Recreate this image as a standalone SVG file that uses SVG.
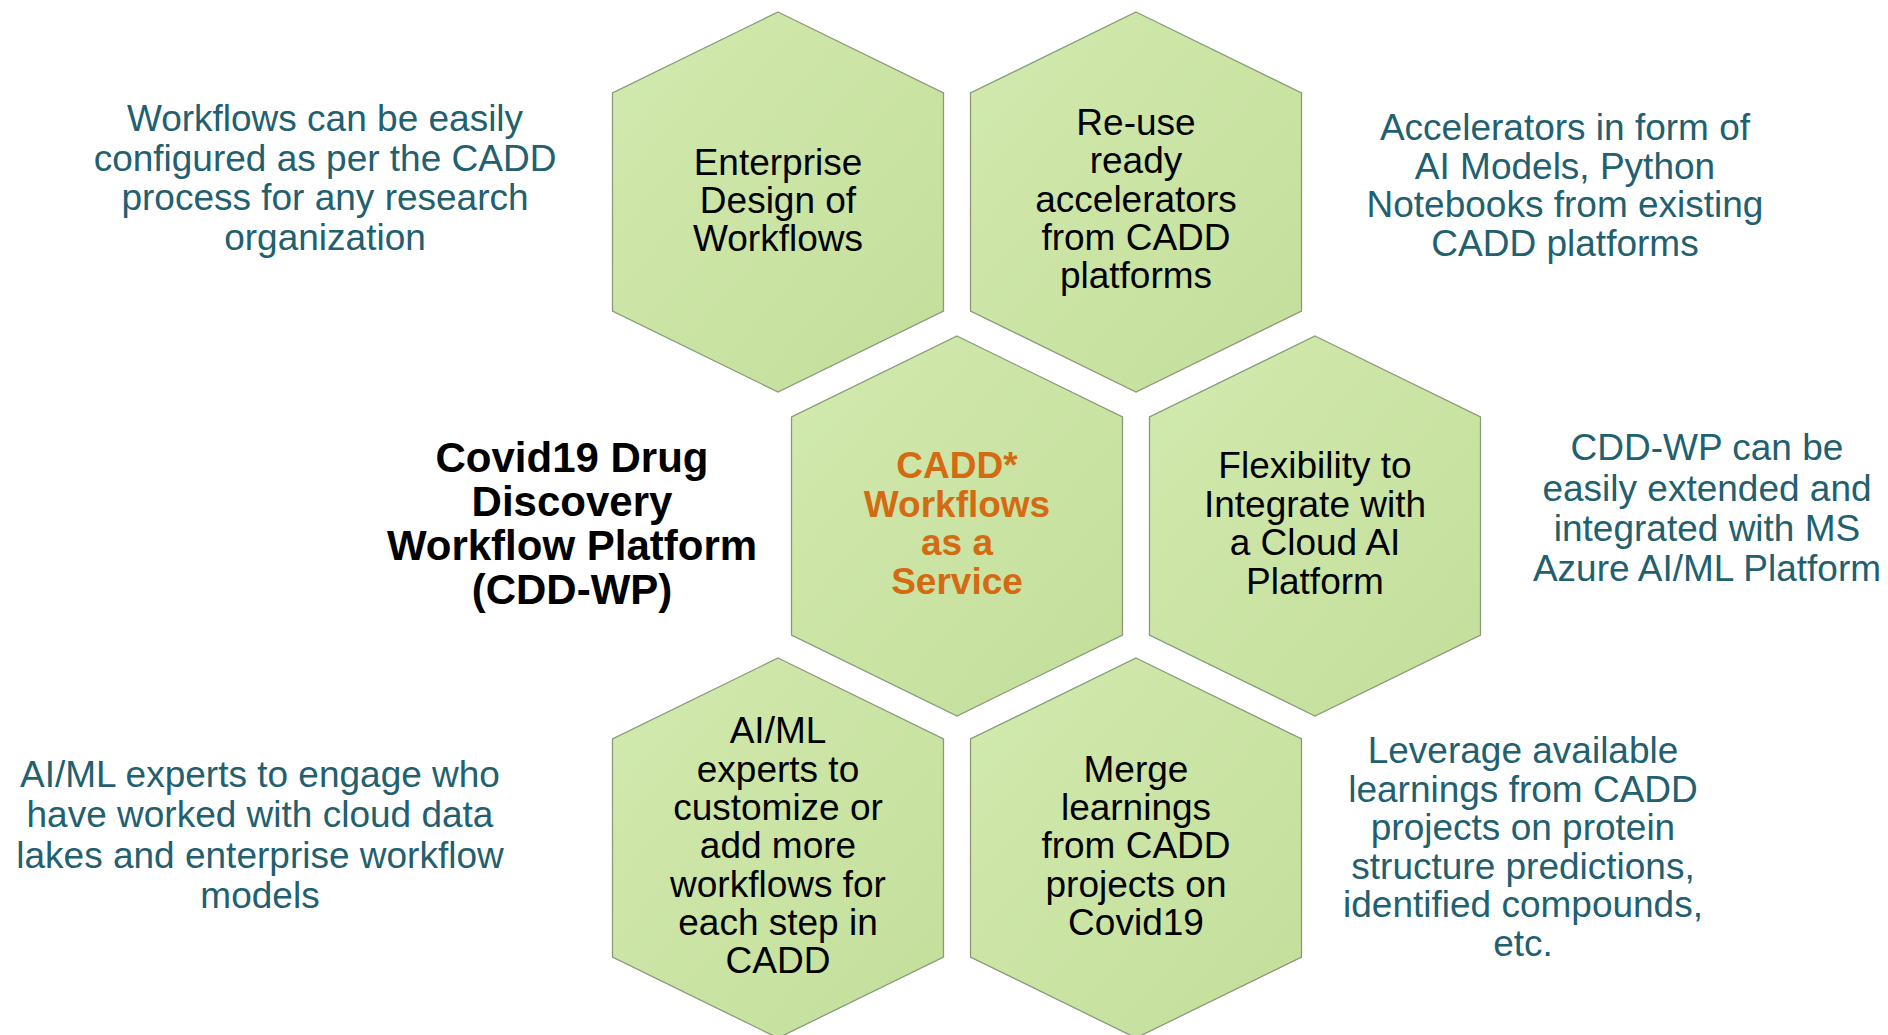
<svg xmlns="http://www.w3.org/2000/svg" width="1888" height="1035" viewBox="0 0 1888 1035">
<defs>
<linearGradient id="g" x1="0" y1="0" x2="1" y2="1">
<stop offset="0" stop-color="#d2eaae"/>
<stop offset="1" stop-color="#c3de9b"/>
</linearGradient>
<polygon id="hex" points="0,0 165.5,81 165.5,299 0,380 -165.5,299 -165.5,81"/>
</defs>
<style>
.hx{fill:url(#g);stroke:#8a9a78;stroke-width:1.3}
.ht{font-family:"Liberation Sans",Arial,sans-serif;font-size:37px;fill:#000;text-anchor:middle}
.hc{font-family:"Liberation Sans",Arial,sans-serif;font-size:37px;font-weight:bold;fill:#d46b12;text-anchor:middle}
.st{font-family:"Liberation Sans",Arial,sans-serif;font-size:37px;fill:#22606f;text-anchor:middle}
.tt{font-family:"Liberation Sans",Arial,sans-serif;font-size:42px;font-weight:bold;fill:#000;text-anchor:middle}
</style>
<rect width="1888" height="1035" fill="#fff"/>
<g id="connectors"></g>
<g id="hex-enterprise">
<use href="#hex" class="hx" x="778" y="12"/>
<text class="ht"><tspan x="778" y="175">Enterprise</tspan><tspan x="778" y="213">Design of</tspan><tspan x="778" y="251">Workflows</tspan></text>
</g>
<g id="hex-reuse">
<use href="#hex" class="hx" x="1136" y="12"/>
<text class="ht"><tspan x="1136" y="135">Re-use</tspan><tspan x="1136" y="173">ready</tspan><tspan x="1136" y="212">accelerators</tspan><tspan x="1136" y="250">from CADD</tspan><tspan x="1136" y="288">platforms</tspan></text>
</g>
<g id="hex-center">
<use href="#hex" class="hx" x="957" y="336"/>
<text class="hc"><tspan x="957" y="478">CADD*</tspan><tspan x="957" y="517">Workflows</tspan><tspan x="957" y="555">as a</tspan><tspan x="957" y="594">Service</tspan></text>
</g>
<g id="hex-flex">
<use href="#hex" class="hx" x="1315" y="336"/>
<text class="ht"><tspan x="1315" y="478">Flexibility to</tspan><tspan x="1315" y="517">Integrate with</tspan><tspan x="1315" y="555">a Cloud AI</tspan><tspan x="1315" y="594">Platform</tspan></text>
</g>
<g id="hex-aiml">
<use href="#hex" class="hx" x="778" y="658"/>
<text class="ht"><tspan x="778" y="743">AI/ML</tspan><tspan x="778" y="782">experts to</tspan><tspan x="778" y="820">customize or</tspan><tspan x="778" y="858">add more</tspan><tspan x="778" y="897">workflows for</tspan><tspan x="778" y="935">each step in</tspan><tspan x="778" y="973">CADD</tspan></text>
</g>
<g id="hex-merge">
<use href="#hex" class="hx" x="1136" y="658"/>
<text class="ht"><tspan x="1136" y="782">Merge</tspan><tspan x="1136" y="820">learnings</tspan><tspan x="1136" y="858">from CADD</tspan><tspan x="1136" y="897">projects on</tspan><tspan x="1136" y="935">Covid19</tspan></text>
</g>
<g id="title">
<text class="tt"><tspan x="572" y="472">Covid19 Drug</tspan><tspan x="572" y="516">Discovery</tspan><tspan x="572" y="560">Workflow Platform</tspan><tspan x="572" y="604">(CDD-WP)</tspan></text>
</g>
<g id="note-top-left">
<text class="st"><tspan x="325" y="131">Workflows can be easily</tspan><tspan x="325" y="171">configured as per the CADD</tspan><tspan x="325" y="210">process for any research</tspan><tspan x="325" y="250">organization</tspan></text>
</g>
<g id="note-top-right">
<text class="st"><tspan x="1565" y="140">Accelerators in form of</tspan><tspan x="1565" y="179">AI Models, Python</tspan><tspan x="1565" y="217">Notebooks from existing</tspan><tspan x="1565" y="256">CADD platforms</tspan></text>
</g>
<g id="note-mid-right">
<text class="st"><tspan x="1707" y="460">CDD-WP can be</tspan><tspan x="1707" y="501">easily extended and</tspan><tspan x="1707" y="541">integrated with MS</tspan><tspan x="1707" y="581">Azure AI/ML Platform</tspan></text>
</g>
<g id="note-bottom-left">
<text class="st"><tspan x="260" y="787">AI/ML experts to engage who</tspan><tspan x="260" y="827">have worked with cloud data</tspan><tspan x="260" y="868">lakes and enterprise workflow</tspan><tspan x="260" y="908">models</tspan></text>
</g>
<g id="note-bottom-right">
<text class="st"><tspan x="1523" y="763">Leverage available</tspan><tspan x="1523" y="802">learnings from CADD</tspan><tspan x="1523" y="840">projects on protein</tspan><tspan x="1523" y="879">structure predictions,</tspan><tspan x="1523" y="917">identified compounds,</tspan><tspan x="1523" y="956">etc.</tspan></text>
</g>
</svg>
